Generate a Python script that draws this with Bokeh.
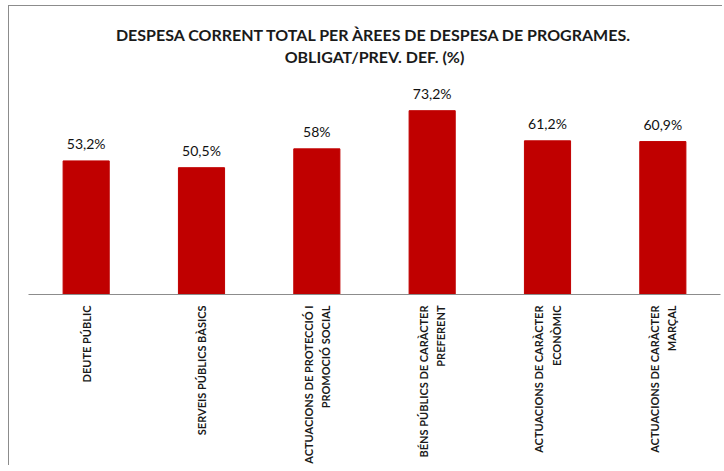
import math
from bokeh.plotting import figure
from bokeh.models import ColumnDataSource, Range1d, FactorRange, Title
from bokeh.core.properties import value
from bokeh.embed import file_html
from bokeh.resources import INLINE

categories = [
    "DEUTE PÚBLIC",
    "SERVEIS PÚBLICS BÀSICS",
    "ACTUACIONS DE PROTECCIÓ I\nPROMOCIÓ SOCIAL",
    "BÉNS PÚBLICS DE CARÀCTER\nPREFERENT",
    "ACTUACIONS DE CARÀCTER\nECONÒMIC",
    "ACTUACIONS DE CARÀCTER\nMARÇAL",
]
values = [53.2, 50.5, 58.0, 73.2, 61.2, 60.9]
value_labels = ["53,2%", "50,5%", "58%", "73,2%", "61,2%", "60,9%"]
title_lines = ["DESPESA CORRENT TOTAL PER ÀREES DE DESPESA DE PROGRAMES.",
               "OBLIGAT/PREV. DEF. (%)"]

FONT = "Lato"

src = ColumnDataSource(dict(cat=categories, val=values, lab=value_labels))

p = figure(width=714, height=460, x_range=FactorRange(*categories),
           y_range=Range1d(0, 90.4), output_backend="svg", toolbar_location=None,
           min_border_left=19, min_border_right=3, min_border_top=61, min_border_bottom=0)

p.styles = {"margin-left": "8px", "margin-top": "5px",
            "border-left": "1px solid #8c8c8c", "border-top": "1px solid #8c8c8c"}

for i, t in enumerate(reversed(title_lines)):
    p.add_layout(Title(text=t, align="center", text_font=FONT, text_font_size="16px",
                       text_font_style="bold", text_color="#1a1a1a",
                       standoff=3 if i == 0 else 0), "above")

p.vbar(x="cat", top="val", width=0.4, source=src, color="#C00000")
p.text(x="cat", y="val", text="lab", source=src, text_align="center",
       text_baseline="bottom", y_offset=-9, text_font=value(FONT),
       text_font_size="14px", text_color="#111111")

p.xgrid.visible = False
p.ygrid.visible = False
p.yaxis.visible = False
p.outline_line_color = None

ax = p.xaxis[0]
ax.major_label_orientation = math.pi / 2
ax.major_label_text_align = "center"
ax.major_label_text_font = FONT
ax.major_label_text_font_size = "11px"
ax.major_label_text_font_style = "bold"
ax.major_label_text_color = "#1a1a1a"
ax.major_label_text_line_height = 1.35
ax.major_label_standoff = 11
ax.major_tick_out = 0
ax.major_tick_in = 0
ax.major_tick_line_color = None
ax.minor_tick_line_color = None
ax.axis_line_color = "#8c8c8c"

open("out.html", "w").write(file_html(p, INLINE))
